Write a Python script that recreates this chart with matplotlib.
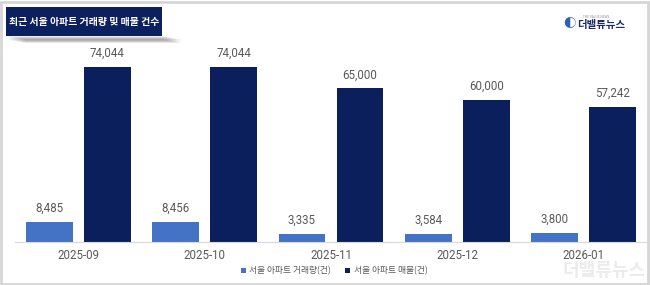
import matplotlib
matplotlib.use("Agg")
import matplotlib.pyplot as plt
import numpy as np
from matplotlib.patches import Rectangle

plt.rcParams['font.family'] = ['Noto Sans CJK KR', 'DejaVu Sans']

categories = ["2025-09", "2025-10", "2025-11", "2025-12", "2026-01"]
trades = [8485, 8456, 3335, 3584, 3800]
listings = [74044, 74044, 65000, 60000, 57242]
series_names = ["서울 아파트 거래량(건)", "서울 아파트 매물(건)"]
title = "최근 서울 아파트 거래량 및 매물 건수"

W, H = 650, 285
fig = plt.figure(figsize=(W / 100, H / 100), dpi=100)
fig.patch.set_facecolor("white")

# outer frame
fig.patches.append(Rectangle((1 / W, 1 / H), 1 - 3 / W, 1 - 3 / H, transform=fig.transFigure,
                             fill=False, edgecolor="#d6d6d6", linewidth=2))

# watermark (behind everything)
fig.text(604 / W, (H - 270) / H, "더밸류뉴스", ha="center", va="center", color="#ececec",
         fontsize=13, fontweight="bold", style="italic", zorder=0)

# axes: baseline at y=242, 74044 at y=67
base_y, top_y = 242, 50
ax = fig.add_axes([15 / W, (H - base_y) / H, (647 - 15) / W, (base_y - top_y) / H])
ax.patch.set_alpha(0)
ax.set_ylim(0, 74044 * (base_y - top_y) / (base_y - 67))
ax.set_xlim(-0.5, 4.5)

x = np.arange(len(categories))
off, bw = 0.23, 0.37
light, dark = "#4472C4", "#0b1f5c"
b1 = ax.bar(x - off, trades, bw, color=light, label=series_names[0])
b2 = ax.bar(x + off, listings, bw, color=dark, label=series_names[1])
for bars, vals in ((b1, trades), (b2, listings)):
    for r, v in zip(bars, vals):
        ax.annotate(f"{v:,}", (r.get_x() + r.get_width() / 2, v), xytext=(0, 5),
                    textcoords="offset points", ha="center", va="bottom",
                    fontsize=8.3, color="#595959", family=['Roboto', 'DejaVu Sans'])

for s in ("top", "right", "left"):
    ax.spines[s].set_visible(False)
ax.spines["bottom"].set_color("#d9d9d9")
ax.set_yticks([])
ax.set_xticks(x)
ax.set_xticklabels(categories, fontsize=8.3, color="#595959", family=['Roboto', 'DejaVu Sans'])
ax.tick_params(axis="x", length=0, pad=5)

leg = fig.legend(handles=[b1, b2], loc="center", bbox_to_anchor=(334 / W, (H - 271) / H),
                 ncol=2, frameon=False, fontsize=6.3, handlelength=0.6, handleheight=0.6,
                 handletextpad=0.4, columnspacing=1.6)
for t in leg.get_texts():
    t.set_color("#595959")

# title box with shadow
for i in range(12):
    fig.patches.append(Rectangle(((8 + i * 1.5) / W, (H - 40 - i * 0.3) / H), 156 / W, 4 / H,
                                 transform=fig.transFigure, facecolor="#000000",
                                 alpha=0.03, edgecolor="none"))
fig.patches.append(Rectangle((6 / W, (H - 36) / H), 156 / W, 29 / H, transform=fig.transFigure,
                             facecolor="#0c1f5e", edgecolor="none"))
fig.text(84 / W, (H - 21.5) / H, title, ha="center", va="center", color="white",
         fontsize=7.1, fontweight="bold")

# logo
fig.text(577 / W, (H - 25) / H, "더밸류뉴스", ha="left", va="center", color="#1a2a6c",
         fontsize=7.5, fontweight="bold", style="italic")
fig.text(583 / W, (H - 17.5) / H, "THE VALUE NEWS", ha="left", va="center", color="#8a8a8a",
         fontsize=2.3)
fig.text(569 / W, (H - 24) / H, "◐", ha="center", va="center", color="#2b5fb0", fontsize=9)

fig.savefig("out.png", dpi=100, facecolor="white")
